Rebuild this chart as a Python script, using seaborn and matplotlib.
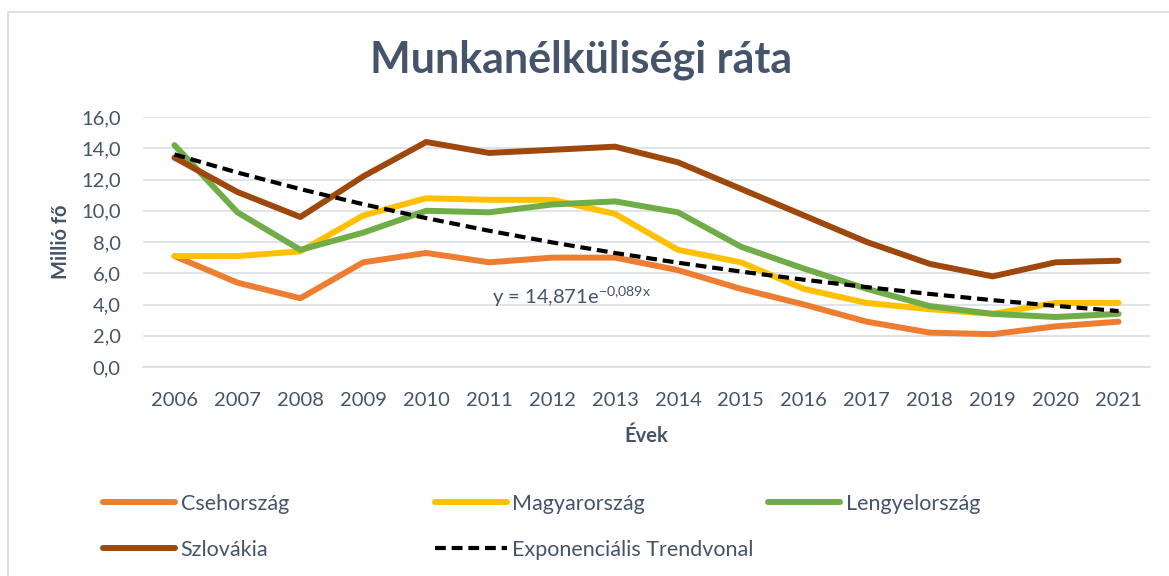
import numpy as np
import pandas as pd
import matplotlib
matplotlib.use('Agg')
import matplotlib.pyplot as plt
import seaborn as sns
from matplotlib.lines import Line2D
from matplotlib.patches import Rectangle
from matplotlib.ticker import FuncFormatter, MultipleLocator

# adatok
years = list(range(2006, 2022))
cseh = [7.1, 5.4, 4.4, 6.7, 7.3, 6.7, 7.0, 7.0, 6.2, 5.0, 4.0, 2.9, 2.2, 2.1, 2.6, 2.9]
magyar = [7.1, 7.1, 7.4, 9.7, 10.8, 10.7, 10.7, 9.8, 7.5, 6.7, 5.0, 4.1, 3.7, 3.4, 4.1, 4.1]
lengyel = [14.2, 9.9, 7.5, 8.6, 10.0, 9.9, 10.4, 10.6, 9.9, 7.7, 6.3, 5.0, 3.9, 3.4, 3.2, 3.4]
szlovak = [13.4, 11.2, 9.6, 12.2, 14.4, 13.7, 13.9, 14.1, 13.1, 11.4, 9.7, 8.0, 6.6, 5.8, 6.7, 6.8]

countries = ['Csehország', 'Magyarország', 'Lengyelország', 'Szlovákia']
colors = ['#ED7D31', '#FFC000', '#70AD47', '#9E480E']

# exponenciális trend: y = 14,871 e^(-0,089x)
trend_a = 14.871
trend_b = -0.089
trend_label = 'Exponenciális Trendvonal'

text_col = '#44546A'
grid_col = '#D9DEE6'

sns.set_theme(style='white')
plt.rcParams['font.family'] = ['Lato', 'DejaVu Sans']
plt.rcParams['mathtext.fontset'] = 'custom'
plt.rcParams['mathtext.rm'] = 'Lato'

df = pd.DataFrame({'Év': years * 4,
                   'Érték': cseh + magyar + lengyel + szlovak,
                   'Ország': sum([[c] * len(years) for c in countries], [])})

fig = plt.figure(figsize=(11.69, 5.76), dpi=100)
ax = fig.add_axes([143 / 1169, 1 - 367 / 576, (1150 - 143) / 1169, (367 - 117) / 576])

sns.lineplot(data=df, x='Év', y='Érték', hue='Ország', hue_order=countries,
             palette=colors, linewidth=4.3, legend=False, ax=ax,
             solid_capstyle='round', solid_joinstyle='round')

x_idx = np.arange(1, len(years) + 1)
trend = trend_a * np.exp(trend_b * x_idx)
ax.plot(years, trend, color='black', linewidth=3, linestyle=(0, (2.6, 1.4)))

ax.text(2011.05, 4.5, r'y = 14,871e$^{\mathregular{-0{,}089x}}$', color=text_col,
        fontsize=14.5, va='center', ha='left')

ax.set_xlim(2005.5, 2021.5)
ax.set_ylim(0, 16)
ax.yaxis.set_major_locator(MultipleLocator(2))
ax.yaxis.set_major_formatter(FuncFormatter(lambda v, p: f'{v:.1f}'.replace('.', ',')))
ax.set_xticks(years)
ax.set_xticks(np.arange(2005.5, 2022, 1), minor=True)
ax.tick_params(axis='x', which='major', length=0, pad=18, labelsize=14.5, labelcolor=text_col)
ax.tick_params(axis='x', which='minor', length=6, width=1, color=grid_col, direction='out')
ax.tick_params(axis='y', length=0, pad=16, labelsize=14.5, labelcolor=text_col)
ax.grid(axis='y', color=grid_col, linewidth=1.2)
ax.grid(axis='x', visible=False)
for s in ['top', 'right', 'left']:
    ax.spines[s].set_visible(False)
ax.spines['bottom'].set_color(grid_col)
ax.spines['bottom'].set_linewidth(1.2)

ax.set_xlabel('Évek', fontsize=14.5, fontweight='bold', color=text_col, labelpad=12)
ax.set_ylabel('Millió fő', fontsize=14.5, fontweight='bold', color=text_col, labelpad=7)

fig.text(0.497, 1 - 60 / 576, 'Munkanélküliségi ráta', ha='center', va='center',
         fontsize=31, fontweight='bold', color=text_col)

# jelmagyarázat három oszlopban
def handle(col, ls='-'):
    if ls == '-':
        return Line2D([], [], color=col, linewidth=4.3, solid_capstyle='round')
    return Line2D([], [], color=col, linewidth=3, linestyle=(0, (2.6, 1.4)))

leg_cols = [
    ([handle(colors[0]), handle(colors[3])], [countries[0], countries[3]], 103),
    ([handle(colors[1]), handle('black', '--')], [countries[1], trend_label], 435),
    ([handle(colors[2])], [countries[2]], 768),
]
for hs, ls, xpix in leg_cols:
    leg = fig.legend(hs, ls, loc='upper left', bbox_to_anchor=(xpix / 1169, 1 - 494 / 576),
                     frameon=False, fontsize=15.5, handlelength=3.35, handletextpad=0.25,
                     labelspacing=1.2, borderaxespad=0, borderpad=0)
    for t in leg.get_texts():
        t.set_color(text_col)

fig.patches.append(Rectangle((8 / 1169, -0.1), 1.2, 1.1 - 12 / 576, transform=fig.transFigure,
                             fill=False, edgecolor='#D9D9D9', linewidth=1.2))

fig.savefig('out.png', dpi=100)
